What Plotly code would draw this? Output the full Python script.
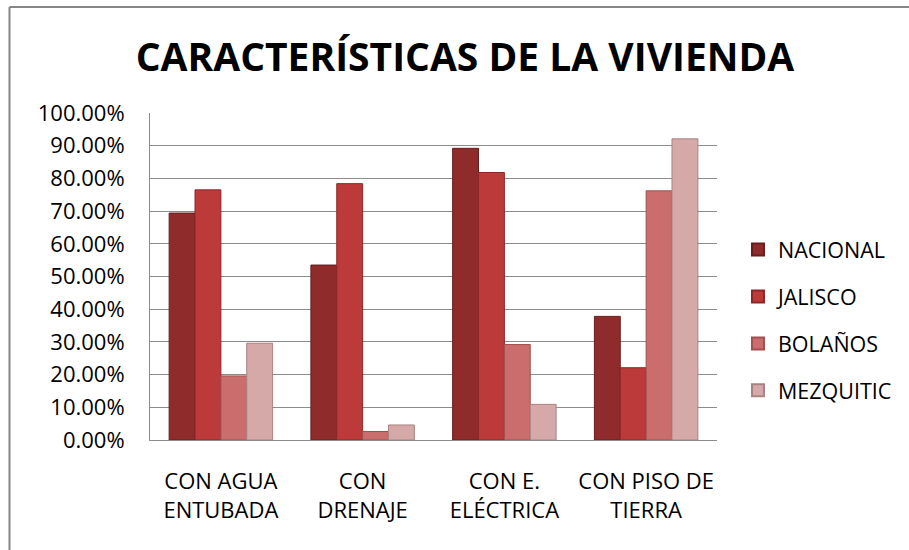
import plotly.graph_objects as go

categories = ["CON AGUA<br>ENTUBADA", "CON<br>DRENAJE", "CON E.<br>ELÉCTRICA", "CON PISO DE<br>TIERRA"]
series_names = ["NACIONAL", "JALISCO", "BOLAÑOS", "MEZQUITIC"]
nacional = [69.4, 53.5, 89.2, 37.8]
jalisco = [76.5, 78.4, 81.8, 22.1]
bolanos = [19.6, 2.6, 29.2, 76.2]
mezquitic = [29.6, 4.6, 10.9, 92.1]
y_ticks = [0, 10, 20, 30, 40, 50, 60, 70, 80, 90, 100]

series_values = [nacional, jalisco, bolanos, mezquitic]
colors = ["#8f2b2b", "#bd3a3a", "#cc6d6d", "#d6a9a9"]
edges = ["#6a1d1d", "#8f2626", "#a24f4f", "#a98282"]

FONT = "Open Sans"
W, H = 909, 550
L, R, T, B = 150, 190, 113, 110
pw, ph = W - L - R, H - T - B

fig = go.Figure()
for i, (name, vals) in enumerate(zip(series_names, series_values)):
    fig.add_trace(go.Bar(
        name=name, x=categories, y=vals, legendgroup=name,
        marker=dict(color=colors[i], line=dict(color=edges[i], width=1)),
    ))

# frame (top and left edges of chart area)
fx0 = (9 - L) / pw
fy1 = 1 + (T - 7) / ph
fig.add_shape(type="line", xref="paper", yref="paper", x0=fx0, x1=(W + 5 - L) / pw,
              y0=fy1, y1=fy1, line=dict(color="#868686", width=2))
fig.add_shape(type="line", xref="paper", yref="paper", x0=fx0, x1=fx0,
              y0=fy1, y1=-(B + 5) / ph, line=dict(color="#868686", width=2))

fig.update_layout(
    width=W, height=H,
    margin=dict(l=L, r=R, t=T, b=B),
    paper_bgcolor="white", plot_bgcolor="white",
    barmode="group", bargap=0.27, bargroupgap=0,
    font=dict(family=FONT, color="#000000", size=22),
    title=dict(text="<b>CARACTERÍSTICAS DE LA VIVIENDA</b>",
               font=dict(family=FONT, size=39, color="#000000"),
               x=465 / W, xanchor="center", xref="container",
               y=1 - 57 / H, yanchor="middle", yref="container"),
    legend=dict(x=1.037, xanchor="left", xref="paper", y=(440 - 320) / ph, yanchor="middle",
                font=dict(family=FONT, size=21.5, color="#000000"),
                tracegroupgap=16, itemsizing="constant", bgcolor="rgba(0,0,0,0)"),
    showlegend=True,
)
fig.update_yaxes(range=[0, 100], tickvals=y_ticks,
                 ticktext=[f"{v:.2f}%" for v in y_ticks],
                 showgrid=True, gridcolor="#8c8c8c", gridwidth=1,
                 showline=True, linecolor="#8c8c8c", linewidth=1,
                 ticks="", ticklabelstandoff=20, zeroline=False,
                 tickfont=dict(family=FONT, size=22, color="#000000"))
fig.update_xaxes(showline=True, linecolor="#8c8c8c", linewidth=1, ticks="",
                 ticklabelstandoff=22,
                 tickfont=dict(family=FONT, size=22, color="#000000"))

fig.write_html("out.html", config={"displayModeBar": False},
               post_script="document.body.style.margin='0px';")
